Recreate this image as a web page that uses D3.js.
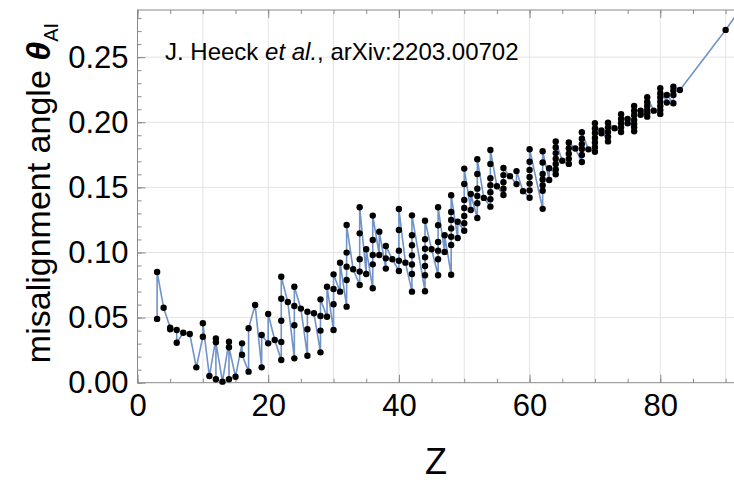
<!DOCTYPE html>
<html>
<head>
<meta charset="utf-8">
<script src="https://cdn.jsdelivr.net/npm/d3@7/dist/d3.min.js"></script>
<style>
  body { margin: 0; background: #fff; }
  text { font-family: "Liberation Sans", Arial, Helvetica, sans-serif; }
</style>
</head>
<body>
<div id="chart"></div>
<script>
// atomic number of each element shown
const zValues = [3, 4, 5, 6, 7, 8, 9, 10, 11, 12, 13, 14, 15, 16, 17, 18, 19, 20,
  21, 22, 23, 24, 25, 26, 27, 28, 29, 30, 31, 32, 33, 34, 35, 36, 37, 38, 39, 40,
  41, 42, 44, 45, 46, 47, 48, 49, 50, 51, 52, 53, 54, 55, 56, 57, 58, 59, 60,
  62, 63, 64, 65, 66, 67, 68, 69, 70, 71, 72, 73, 74, 75, 76, 77, 78, 79, 80,
  81, 82, 83, 90, 92];

// misalignment angle of each isotope, in plotting order, one list per element
const thetaValues = [
  [0.049, 0.085], [0.0576], [0.0422, 0.041], [0.0405, 0.0307], [0.0384], [0.0374],
  [0.0118], [0.0353, 0.0456], [0.0051], [0.034, 0.0026, 0.031], [0.0008],
  [0.0315, 0.0026, 0.0272], [0.0046], [0.0302, 0.0215], [0.0085, 0.0418], [0.0597],
  [0.0118, 0.0366], [0.0302, 0.0528], [0.0328],
  [0.0174, 0.0313, 0.0476, 0.0645, 0.0814], [0.062],
  [0.0187, 0.0441, 0.0589, 0.0737], [0.0569], [0.0207, 0.041, 0.0545], [0.0533],
  [0.0233, 0.04, 0.0512, 0.064], [0.0507, 0.0737], [0.0405, 0.0602, 0.072, 0.0832],
  [0.0699, 0.0922], [0.0584, 0.0789, 0.0891, 0.0999, 0.1211], [0.0871],
  [0.075, 0.0853, 0.0948, 0.1147, 0.1347], [0.0835, 0.1025],
  [0.0725, 0.0909, 0.0981, 0.1096, 0.1283], [0.0981, 0.116], [0.0876, 0.0955, 0.105],
  [0.0948], [0.0858, 0.0937, 0.1014, 0.1173, 0.1334], [0.0922],
  [0.0699, 0.0835, 0.0908, 0.0978, 0.1055, 0.1132, 0.1285],
  [0.0702, 0.0825, 0.0896, 0.0963, 0.1029, 0.1101, 0.1244], [0.1025],
  [0.0825, 0.0948, 0.1014, 0.1081, 0.1209, 0.1347], [0.1004, 0.1132],
  [0.0829, 0.1058, 0.1121, 0.1185, 0.125, 0.1311, 0.1439], [0.1111, 0.1236],
  [0.1167, 0.1224, 0.128, 0.1342, 0.1403, 0.1526, 0.1644], [0.1326, 0.1449],
  [0.1265, 0.1378, 0.1434, 0.149, 0.1603, 0.1716], [0.1419],
  [0.1352, 0.1409, 0.1462, 0.1516, 0.157, 0.168, 0.1787], [0.1508],
  [0.1441, 0.1489, 0.154, 0.1594, 0.1649], [0.1586], [0.1525, 0.1625], [0.1471],
  [0.142, 0.1477, 0.1529, 0.158, 0.1634, 0.1697, 0.1793],
  [0.1335, 0.1474, 0.1517, 0.1561, 0.1603, 0.1691, 0.1777], [0.1557, 0.1647],
  [0.1601, 0.1637, 0.1679, 0.172, 0.1763, 0.1809, 0.1853], [0.1704],
  [0.168, 0.1719, 0.1758, 0.18, 0.1845], [0.1798],
  [0.1695, 0.1749, 0.1795, 0.1832, 0.1873, 0.1923], [0.1792],
  [0.1773, 0.1809, 0.1845, 0.188, 0.1918, 0.1952, 0.1992], [0.1915, 0.1938],
  [0.1853, 0.1889, 0.1925, 0.1961, 0.1997], [0.1954],
  [0.1925, 0.1961, 0.1992, 0.2025, 0.2061], [0.1992, 0.2025],
  [0.1931, 0.1961, 0.1987, 0.2018, 0.2054, 0.2089, 0.2125], [0.2058, 0.2089],
  [0.2043, 0.2069, 0.2094, 0.2125, 0.2156, 0.2192], [0.2089],
  [0.2064, 0.2094, 0.2125, 0.2158, 0.2192, 0.2223, 0.2261], [0.2151, 0.221],
  [0.2146, 0.221, 0.2243, 0.2273], [0.2248], [0.2709], [0.285]
];

const xTicks = [0, 20, 40, 60, 80];
const yTicks = [0, 0.05, 0.10, 0.15, 0.20, 0.25];

const width = 734, height = 482;
const plot = { left: 137.5, right: 738.7, top: 10, bottom: 382.7 };

var svg = d3.select("#chart")
    .append("svg")
    .attr("width", width)
    .attr("height", height);

svg.append("rect").attr("width", width).attr("height", height).attr("fill", "#fff");

var x = d3.scaleLinear().domain([0, 92]).range([plot.left, plot.right]);
var y = d3.scaleLinear().domain([0, 0.2862]).range([plot.bottom, plot.top]);

// flatten into points, keeping the order
var points = [];
zValues.forEach(function (z, i) {
    thetaValues[i].forEach(function (t) { points.push({ z: z, t: t }); });
});

// grid lines
var grid = svg.append("g").attr("stroke", "#e4e4e4").attr("stroke-width", 1);
grid.selectAll(".vg")
    .data(d3.range(10, 100, 10))
    .enter().append("line")
    .attr("x1", d => x(d)).attr("x2", d => x(d))
    .attr("y1", plot.top).attr("y2", plot.bottom);
grid.selectAll(".hg")
    .data(yTicks.slice(1))
    .enter().append("line")
    .attr("x1", plot.left).attr("x2", plot.right)
    .attr("y1", d => y(d)).attr("y2", d => y(d));

// frame ticks (pointing inwards)
function styleAxis(g) {
    g.select(".domain").remove();
    g.selectAll(".tick line").attr("stroke", "#8a8a8a");
    g.selectAll(".tick text").attr("fill", "#000").style("font-size", "31px")
        .style("font-family", "'Liberation Sans', Arial, sans-serif");
}

svg.append("g")
    .attr("transform", "translate(" + plot.left + ",0)")
    .call(d3.axisLeft(y).tickValues(d3.range(0, 0.285, 0.01)).tickSize(-4).tickFormat(""))
    .call(styleAxis);
svg.append("g")
    .attr("transform", "translate(" + plot.left + ",0)")
    .call(d3.axisLeft(y).tickValues(yTicks).tickSize(-8).tickPadding(9).tickFormat(d3.format(".2f")))
    .call(styleAxis);

svg.append("g")
    .attr("transform", "translate(0," + plot.bottom + ")")
    .call(d3.axisBottom(x).tickValues(d3.range(0, 95, 5)).tickSize(-4).tickFormat(""))
    .call(styleAxis);
svg.append("g")
    .attr("transform", "translate(0," + plot.bottom + ")")
    .call(d3.axisBottom(x).tickValues(xTicks).tickSize(-8).tickPadding(11))
    .call(styleAxis);

svg.append("g")
    .attr("transform", "translate(0," + plot.top + ")")
    .call(d3.axisTop(x).tickValues(d3.range(0, 95, 5)).tickSize(-4).tickFormat(""))
    .call(styleAxis);
svg.append("g")
    .attr("transform", "translate(0," + plot.top + ")")
    .call(d3.axisTop(x).tickValues(xTicks).tickSize(-8).tickFormat(""))
    .call(styleAxis);

// frame
svg.append("rect")
    .attr("x", plot.left).attr("y", plot.top)
    .attr("width", plot.right - plot.left).attr("height", plot.bottom - plot.top)
    .attr("fill", "none").attr("stroke", "#8a8a8a").attr("stroke-width", 1);

svg.append("defs").append("clipPath").attr("id", "clip")
    .append("rect")
    .attr("x", plot.left).attr("y", plot.top - 4)
    .attr("width", plot.right - plot.left).attr("height", plot.bottom - plot.top + 8);

var data_g = svg.append("g").attr("clip-path", "url(#clip)");

var line = d3.line().x(d => x(d.z)).y(d => y(d.t));
data_g.append("path")
    .datum(points)
    .attr("d", line)
    .attr("fill", "none")
    .attr("stroke", "#7093c8")
    .attr("stroke-width", 1.6)
    .attr("stroke-linejoin", "round");

data_g.selectAll("circle")
    .data(points)
    .enter().append("circle")
    .attr("cx", d => x(d.z))
    .attr("cy", d => y(d.t))
    .attr("r", 3.2)
    .attr("fill", "#000");

// annotation
var note = svg.append("text")
    .attr("x", 165).attr("y", 60)
    .style("font-size", "24px");
note.append("tspan").text("J. Heeck ");
note.append("tspan").style("font-style", "italic").text("et al.");
note.append("tspan").text(", arXiv:2203.00702");

// axis labels
svg.append("text")
    .attr("x", 436).attr("y", 474)
    .attr("text-anchor", "middle")
    .style("font-size", "36px")
    .text("Z");

var yl = svg.append("text")
    .attr("transform", "translate(50," + 193 + ") rotate(-90)")
    .attr("text-anchor", "middle")
    .style("font-size", "34px");
yl.append("tspan").text("misalignment  angle ");
yl.append("tspan").style("font-style", "italic").style("font-weight", "bold").text("θ");
yl.append("tspan").attr("dy", 8).style("font-size", "20px").text("AI");
</script>
</body>
</html>
